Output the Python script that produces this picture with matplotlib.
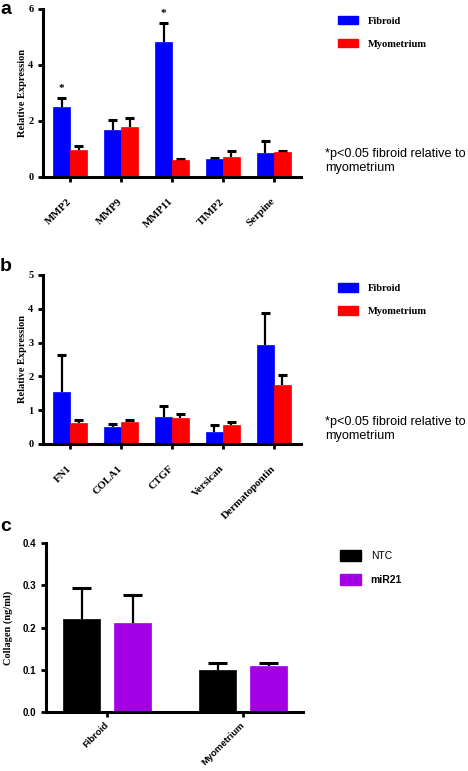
import numpy as np
import matplotlib
matplotlib.use("Agg")
import matplotlib.pyplot as plt
from matplotlib.patches import Patch

# panel a: protease genes
genes_a = ["MMP2", "MMP9", "MMP11", "TIMP2", "Serpine"]
fib_a = [2.5, 1.68, 4.83, 0.65, 0.86]
fib_a_err = [0.32, 0.37, 0.67, 0.03, 0.43]
myo_a = [0.97, 1.79, 0.6, 0.7, 0.9]
myo_a_err = [0.13, 0.31, 0.05, 0.24, 0.03]
star_a = [True, False, True, False, False]

# panel b: ECM genes
genes_b = ["FN1", "COLA1", "CTGF", "Versican", "Dermatopontin"]
fib_b = [1.54, 0.5, 0.8, 0.35, 2.93]
fib_b_err = [1.1, 0.1, 0.33, 0.2, 0.95]
myo_b = [0.62, 0.65, 0.78, 0.55, 1.75]
myo_b_err = [0.09, 0.05, 0.12, 0.1, 0.3]

# panel c: collagen
tissues = ["Fibroid", "Myometrium"]
ntc = [0.22, 0.10]
ntc_err = [0.074, 0.015]
mir21 = [0.21, 0.11]
mir21_err = [0.067, 0.007]

BLUE = "#0000ff"
RED = "#ff0000"
PURPLE = "#a300e6"
SERIF = "Liberation Serif"
SANS = "Liberation Sans"

W, H = 468, 771
fig = plt.figure(figsize=(W / 100, H / 100), dpi=100)


def px_axes(left, top, right, bottom):
    return fig.add_axes([left / W, 1 - bottom / H, (right - left) / W, (bottom - top) / H])


def style_axes(ax, tickfont, size):
    for s in ["top", "right"]:
        ax.spines[s].set_visible(False)
    for s in ["left", "bottom"]:
        ax.spines[s].set_linewidth(2.2)
    ax.tick_params(axis="both", width=2.0, length=3.5, direction="out")
    for lab in ax.get_yticklabels():
        lab.set_fontfamily(tickfont)
        lab.set_fontweight("bold")
        lab.set_fontsize(size)


def bar_with_err(ax, x, vals, errs, color, width, cap):
    vals = np.array(vals)
    tops = vals + np.array(errs)
    ax.vlines(x, vals, tops, color="black", linewidth=1.6, zorder=1)
    ax.hlines(tops, x - cap, x + cap, color="black", linewidth=2.2, zorder=1)
    ax.bar(x, vals, width=width, color=color, edgecolor=color, linewidth=0.5, zorder=2)


def gene_panel(ax, genes, fib, fib_err, myo, myo_err, ymax, yticks):
    x = np.arange(len(genes))
    w = 0.333
    bar_with_err(ax, x - w / 2, fib, fib_err, BLUE, w, 0.095)
    bar_with_err(ax, x + w / 2, myo, myo_err, RED, w, 0.095)
    ax.set_xlim(-0.53, len(genes) - 1 + 0.53)
    ax.set_ylim(0, ymax)
    ax.set_yticks(yticks)
    ax.set_xticks(x)
    ax.set_xticklabels(genes, rotation=45, ha="right", va="center", rotation_mode="anchor",
                       fontfamily=SERIF, fontweight="bold", fontsize=7.8)
    ax.tick_params(axis="x", pad=13)
    style_axes(ax, SERIF, 7.5)
    ax.set_ylabel("Relative Expression", fontfamily=SERIF, fontweight="bold", fontsize=7.5)
    ax.yaxis.set_label_coords(-0.062, 0.5)
    return x, w


def legend(ax, handles, labels, x, y, font, size, hl, hh, spacing):
    lg = ax.legend(handles, labels, loc="upper left", bbox_to_anchor=(x / W, 1 - y / H),
                   bbox_transform=fig.transFigure, frameon=False, borderpad=0,
                   borderaxespad=0, handlelength=hl, handleheight=hh,
                   handletextpad=0.95, labelspacing=spacing,
                   prop={"family": font, "weight": "bold", "size": size})
    return lg


note = "*p<0.05 fibroid relative to\nmyometrium"

# ---- panel a
ax_a = px_axes(43, 9, 301, 177)
x, w = gene_panel(ax_a, genes_a, fib_a, fib_a_err, myo_a, myo_a_err, 6, [0, 2, 4, 6])
for i, s in enumerate(star_a):
    if s:
        ax_a.text(x[i] - w / 2, fib_a[i] + fib_a_err[i] + 0.35, "*", ha="center",
                  va="center", fontfamily=SERIF, fontweight="bold", fontsize=8)
legend(ax_a, [Patch(color=BLUE), Patch(color=RED)], ["Fibroid", "Myometrium"],
       338, 16, SERIF, 7.6, 1.85, 0.85, 1.25)
fig.text(325 / W, 1 - 148 / H, note, ha="left", va="top", fontfamily=SANS,
         fontsize=9.1, linespacing=1.2)
fig.text(0, 1 - 1 / H, "a", ha="left", va="top", fontfamily=SANS,
         fontweight="bold", fontsize=14)

# ---- panel b
ax_b = px_axes(43, 275, 301, 444)
gene_panel(ax_b, genes_b, fib_b, fib_b_err, myo_b, myo_b_err, 5, [0, 1, 2, 3, 4, 5])
legend(ax_b, [Patch(color=BLUE), Patch(color=RED)], ["Fibroid", "Myometrium"],
       338, 283, SERIF, 7.6, 1.85, 0.95, 1.2)
fig.text(325 / W, 1 - 416 / H, note, ha="left", va="top", fontfamily=SANS,
         fontsize=9.1, linespacing=1.2)
fig.text(0, 1 - 258 / H, "b", ha="left", va="top", fontfamily=SANS,
         fontweight="bold", fontsize=14)

# ---- panel c
ax_c = px_axes(46, 543, 303, 712)
xc = np.arange(len(tissues))
wc = 0.272
bar_with_err(ax_c, xc - 0.1875, ntc, ntc_err, "black", wc, 0.072)
bar_with_err(ax_c, xc + 0.1875, mir21, mir21_err, PURPLE, wc, 0.072)
ax_c.set_xlim(-0.449, 1.441)
ax_c.set_ylim(0, 0.4)
ax_c.set_yticks([0.0, 0.1, 0.2, 0.3, 0.4])
ax_c.set_yticklabels(["0.0", "0.1", "0.2", "0.3", "0.4"])
ax_c.set_xticks(xc)
ax_c.set_xticklabels(tissues, rotation=45, ha="right", va="center", rotation_mode="anchor",
                     fontfamily=SANS, fontweight="bold", fontsize=6.8)
ax_c.tick_params(axis="x", pad=5)
style_axes(ax_c, SANS, 7)
ax_c.set_ylabel("Collagen (ng/ml)", fontfamily=SERIF, fontweight="bold", fontsize=7.5)
ax_c.yaxis.set_label_coords(-0.128, 0.5)
lg = legend(ax_c, [Patch(color="black"), Patch(color=PURPLE)], ["NTC", "miR21"],
            340, 550, SANS, 7.5, 2.0, 1.2, 1.25)
lg.get_texts()[0].set_fontweight("normal")
fig.text(0, 1 - 518 / H, "c", ha="left", va="top", fontfamily=SANS,
         fontweight="bold", fontsize=14)

fig.savefig("out.png", dpi=100)
